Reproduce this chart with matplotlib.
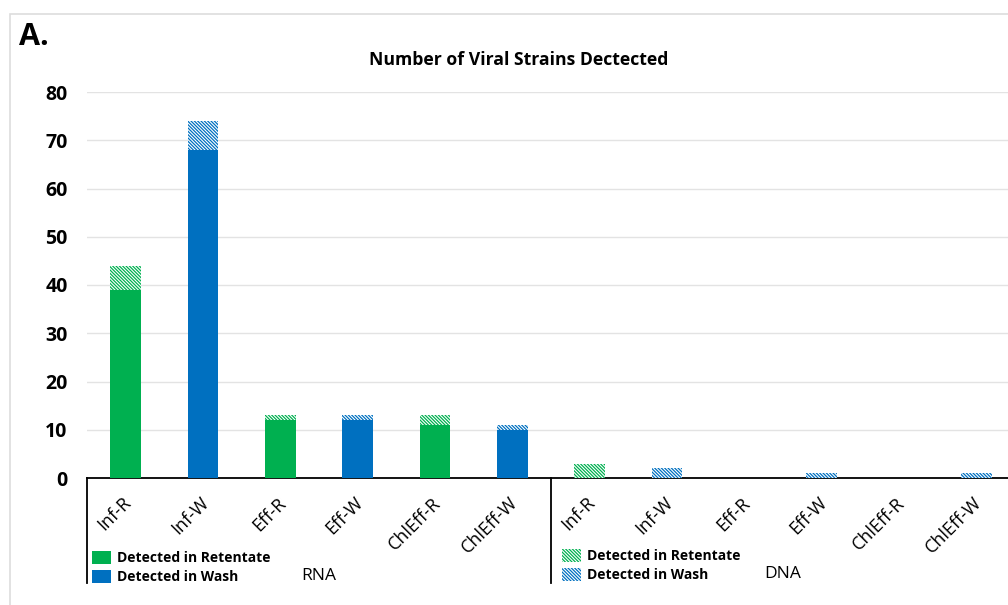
import matplotlib
matplotlib.use("Agg")
import matplotlib.pyplot as plt
import matplotlib.transforms as mtransforms
from matplotlib.patches import Patch, Rectangle
import numpy as np

plt.rcParams['font.family'] = ['Open Sans', 'DejaVu Sans']
plt.rcParams['hatch.linewidth'] = 0.9

samples = ['Inf-R', 'Inf-W', 'Eff-R', 'Eff-W', 'ChlEff-R', 'ChlEff-W']
groups = ['RNA', 'DNA']
# solid part and hatched top part of each bar, RNA then DNA
rna_solid = [39, 68, 12, 12, 11, 10]
rna_hatched = [5, 6, 1, 1, 2, 1]
dna_solid = [0, 0, 0, 0, 0, 0]
dna_hatched = [3, 2, 0, 1, 0, 1]
yticks = [0, 10, 20, 30, 40, 50, 60, 70, 80]

GREEN = '#00B050'
BLUE = '#0070C0'
HATCH = '\\' * 10

W, H = 1008, 605
fig = plt.figure(figsize=(W / 100, H / 100), dpi=100)
fig.patch.set_facecolor('white')

# light frame round the panel
fig.add_artist(Rectangle((10 / W, -0.05), 1.2, (H - 14) / H + 0.05,
                         transform=fig.transFigure, fill=False,
                         edgecolor='#DDDDDD', lw=1.2))

ax = fig.add_axes([87 / W, (H - 478) / H, 928 / W, 386 / H])

labels = samples + samples
solid = rna_solid + dna_solid
hatched = rna_hatched + dna_hatched
x = np.arange(len(labels))
colors = [GREEN if s.endswith('R') else BLUE for s in labels]

ax.bar(x, solid, width=0.4, color=colors, edgecolor='none', zorder=3)
for xi, b, h, c in zip(x, solid, hatched, colors):
    if h > 0:
        ax.bar(xi, h, bottom=b, width=0.4, facecolor='white', edgecolor=c,
               hatch=HATCH, linewidth=0, zorder=3)

ax.set_xlim(-0.5, len(labels) - 0.5)
ax.set_ylim(0, 80)
ax.set_yticks(yticks)
ax.set_yticklabels([str(v) for v in yticks], fontsize=14, fontweight='bold')
ax.tick_params(axis='y', length=0, pad=14)
ax.yaxis.grid(True, color='#E3E3E3', lw=1.0, zorder=0)
ax.set_axisbelow(True)
for side in ['left', 'right', 'top']:
    ax.spines[side].set_visible(False)
ax.spines['bottom'].set_linewidth(1.3)

ax.set_xticks(x)
ax.set_xticklabels(labels, rotation=45, ha='right', va='center',
                   rotation_mode='anchor', fontsize=13)
ax.tick_params(axis='x', length=0, pad=16)
offset = mtransforms.ScaledTranslation(0.03, 0, fig.dpi_scale_trans)
for lab in ax.get_xticklabels():
    lab.set_transform(lab.get_transform() + offset)

# group dividers below the axis
xt = ax.get_xaxis_transform()
for xv in [-0.5, 5.5, 11.5]:
    ax.plot([xv, xv], [0, -0.272], transform=xt, color='black', lw=1.3,
            clip_on=False)

ax.text(2.5, -0.255, groups[0], transform=xt, fontsize=12.5, ha='center', va='center')
ax.text(8.5, -0.25, groups[1], transform=xt, fontsize=12.5, ha='center', va='center')

leg_solid = [Patch(facecolor=GREEN, edgecolor='none', label='Detected in Retentate'),
             Patch(facecolor=BLUE, edgecolor='none', label='Detected in Wash')]
leg_hatch = [Patch(facecolor='white', edgecolor=GREEN, hatch=HATCH, lw=0,
                   label='Detected in Retentate'),
             Patch(facecolor='white', edgecolor=BLUE, hatch=HATCH, lw=0,
                   label='Detected in Wash')]
legend_kw = dict(loc='upper left', frameon=False,
                 prop={'size': 10, 'weight': 'bold'}, handlelength=1.37,
                 handleheight=1.1, handletextpad=0.4, labelspacing=0.3,
                 borderpad=0, borderaxespad=0)
fig.legend(handles=leg_solid, bbox_to_anchor=(92 / W, (H - 551) / H), **legend_kw)
fig.legend(handles=leg_hatch, bbox_to_anchor=(562 / W, (H - 549) / H), **legend_kw)

fig.text(19 / W, (H - 37) / H, 'A.', fontsize=22, fontweight='bold',
         ha='left', va='center')
fig.text(519 / W, (H - 60) / H, 'Number of Viral Strains Dectected',
         fontsize=12.7, fontweight='bold', ha='center', va='center')

fig.savefig('out.png', dpi=100)
